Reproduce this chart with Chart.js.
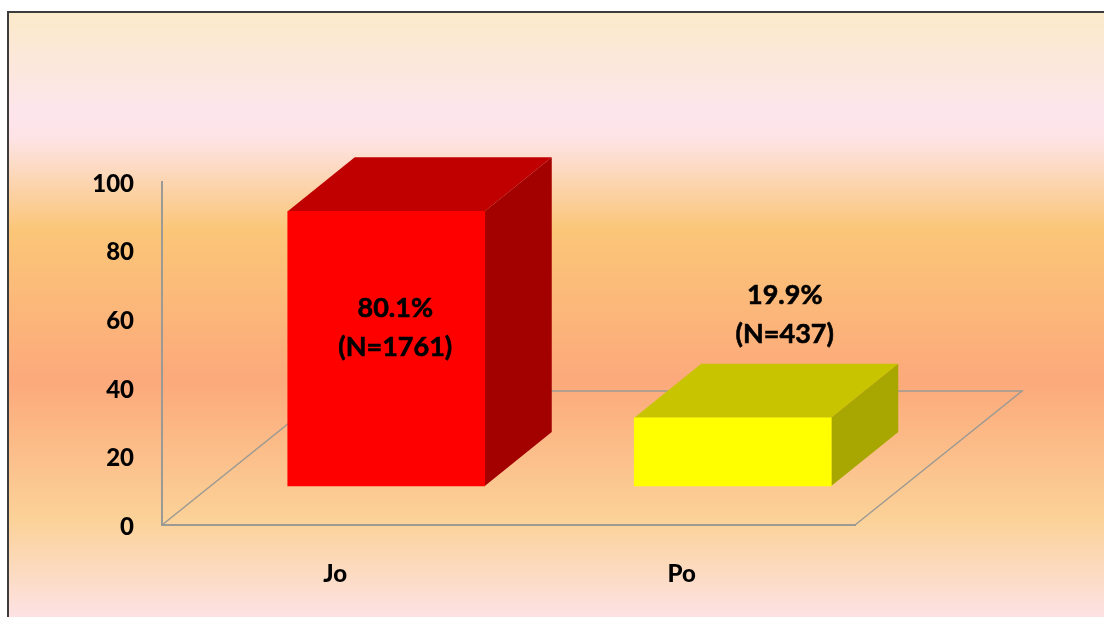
<!DOCTYPE html>
<html>
<head>
<meta charset="utf-8">
<title>Jo / Po</title>
<script src="https://cdn.jsdelivr.net/npm/chart.js@4"></script>
<style>
    html, body { margin: 0; padding: 0; background: #fff; overflow: hidden; }
    canvas { display: block; }
</style>
</head>
<body>
<canvas id="chart" width="1104" height="617"></canvas>
<script>
const categories = ['Jo', 'Po'];
const percents = [80.1, 19.9];
const counts = [1761, 437];
const yTicks = [0, 20, 40, 60, 80, 100];

const frontColors = ['#ff0000', '#ffff00'];
const topColors = ['#c00000', '#c8c400'];
const sideColors = ['#a30000', '#a8a600'];

// bar offset from the axis plane, and the depth of box and floor
const barShift = { x: 51, y: -39 };
const barDepth = { x: 67, y: -54 };
const floorDepth = { x: 167, y: -134 };
const labelOffsets = [{ x: 60, y: 58 }, { x: 103, y: -161 }];

const axisColor = '#9c9a94';
const labelFont = 'bold 27px Lato';

const backdrop = {
    id: 'backdrop',
    beforeDraw(chart) {
        const { ctx, width, height } = chart;
        const g = ctx.createLinearGradient(0, 12, 0, height);
        g.addColorStop(0, '#fbeaca');
        g.addColorStop(0.17, '#fde5ec');
        g.addColorStop(0.21, '#fde3e4');
        g.addColorStop(0.36, '#fbc678');
        g.addColorStop(0.61, '#fca97b');
        g.addColorStop(0.84, '#fbd298');
        g.addColorStop(1, '#fde2e4');
        ctx.save();
        ctx.fillStyle = '#fff';
        ctx.fillRect(0, 0, width, height);
        ctx.fillStyle = g;
        ctx.fillRect(8, 12, width - 8, height - 12);
        ctx.fillStyle = '#3c3c3c';
        ctx.fillRect(7, 11, width - 7, 2);
        ctx.fillRect(7, 11, 2, height - 11);
        ctx.restore();
    }
};

function face(ctx, color, pts) {
    ctx.fillStyle = color;
    ctx.beginPath();
    pts.forEach((p, i) => i ? ctx.lineTo(p[0], p[1]) : ctx.moveTo(p[0], p[1]));
    ctx.closePath();
    ctx.fill();
}

const box3d = {
    id: 'box3d',
    beforeDatasetsDraw(chart) {
        const { ctx, chartArea: a } = chart;
        // floor outline, the far edge runs behind the bars
        ctx.save();
        ctx.strokeStyle = axisColor;
        ctx.lineWidth = 1.5;
        ctx.beginPath();
        ctx.moveTo(a.left, a.bottom);
        ctx.lineTo(a.left + floorDepth.x, a.bottom + floorDepth.y);
        ctx.lineTo(a.right + floorDepth.x, a.bottom + floorDepth.y);
        ctx.lineTo(a.right, a.bottom);
        ctx.stroke();
        ctx.restore();

        ctx.save();
        ctx.translate(barShift.x, barShift.y);
        chart.getDatasetMeta(0).data.forEach((bar, i) => {
            const l = bar.x - bar.width / 2;
            const r = bar.x + bar.width / 2;
            const dx = barDepth.x, dy = barDepth.y;
            face(ctx, topColors[i], [[l, bar.y], [r, bar.y], [r + dx, bar.y + dy], [l + dx, bar.y + dy]]);
            face(ctx, sideColors[i], [[r, bar.y], [r + dx, bar.y + dy], [r + dx, bar.base + dy], [r, bar.base]]);
        });
    },
    afterDatasetsDraw(chart) {
        const { ctx } = chart;
        ctx.restore();
        ctx.save();
        ctx.font = labelFont;
        ctx.fillStyle = '#000';
        ctx.strokeStyle = '#000';
        ctx.lineWidth = 0.6;
        ctx.textAlign = 'center';
        ctx.textBaseline = 'middle';
        chart.getDatasetMeta(0).data.forEach((bar, i) => {
            const x = bar.x + labelOffsets[i].x;
            const y = bar.y + labelOffsets[i].y;
            [percents[i].toFixed(1) + '%', '(N=' + counts[i] + ')'].forEach((line, n) => {
                ctx.fillText(line, x, y + n * 39);
                ctx.strokeText(line, x, y + n * 39);
            });
        });
        ctx.restore();
    }
};

new Chart(document.getElementById('chart'), {
    type: 'bar',
    data: {
        labels: categories,
        datasets: [{
            data: percents,
            backgroundColor: frontColors,
            barThickness: 197,
            clip: false
        }]
    },
    plugins: [backdrop, box3d],
    options: {
        responsive: false,
        animation: false,
        layout: { padding: { top: 182, right: 249, bottom: 0, left: 0 } },
        plugins: { legend: { display: false }, tooltip: { enabled: false } },
        scales: {
            x: {
                afterFit(s) { s.height = 92; },
                grid: { display: false },
                border: { color: axisColor, width: 2 },
                ticks: {
                    color: '#000',
                    font: { family: 'Lato', size: 24, weight: '900' },
                    padding: 27,
                    maxRotation: 0
                }
            },
            y: {
                min: 0,
                max: 100,
                afterFit(s) { s.width = 162; },
                afterBuildTicks(s) { s.ticks = yTicks.map(v => ({ value: v })); },
                grid: { display: false },
                border: { color: axisColor, width: 2 },
                ticks: {
                    color: '#000',
                    font: { family: 'Lato', size: 24, weight: '900' },
                    padding: 20,
                    labelOffset: 2
                }
            }
        }
    }
});
</script>
</body>
</html>
